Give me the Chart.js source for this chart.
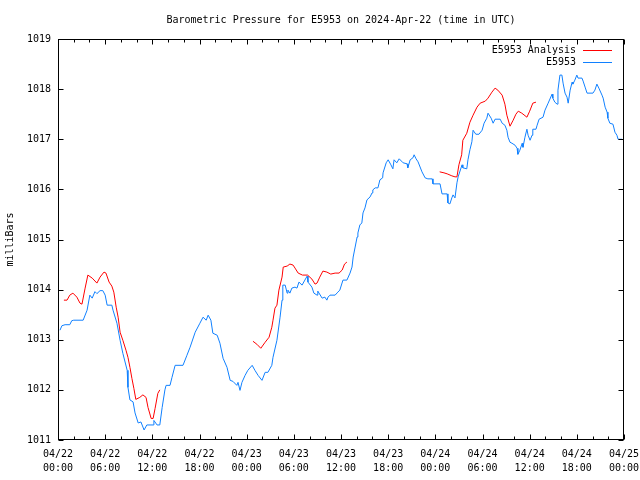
<!DOCTYPE html>
<html lang="en">
<head>
<meta charset="UTF-8">
<title>Barometric Pressure E5953</title>
<script src="https://cdn.jsdelivr.net/npm/chart.js"></script>
<style>
  body { margin: 0; background: #fff; }
  #wrap { width: 640px; height: 480px; }
</style>
</head>
<body>
<div id="wrap"><canvas id="pressureChart" width="640" height="480"></canvas></div>
<script>
// hours since 04/22 00:00 UTC
const stationHours = [
  0.25, 0.5, 0.9, 1.5, 1.75, 2.0, 3.2, 3.7, 4.05, 4.35, 4.7, 4.95, 5.35, 5.7, 6.0, 6.25, 6.85, 7.0, 7.5, 7.9,
  8.25, 8.8, 8.9, 9.15, 9.55, 9.8, 10.2, 10.55, 10.95, 11.3, 12.1, 12.2, 12.6, 12.95, 13.25, 13.6, 13.75, 14.25, 14.5, 14.9,
  15.9, 16.4, 16.8, 17.45, 18.05, 18.45, 18.85, 19.1, 19.45, 19.7, 20.25, 20.6, 21.0, 21.5, 21.9, 22.25, 22.75, 22.9, 23.15, 23.4,
  23.8, 24.15, 24.7, 25.05, 25.45, 25.95, 26.35, 26.7, 27.2, 27.35, 27.85, 28.25, 28.5, 28.6, 28.9, 29.15, 29.25, 29.5, 29.75, 30.15,
  30.4, 30.65, 31.05, 31.4, 31.7, 31.8, 32.3, 32.55, 32.95, 33.05, 33.6, 33.95, 34.2, 34.35, 34.6, 35.25, 35.6, 35.85, 36.25, 36.75,
  37.15, 37.4, 37.55, 37.8, 38.05, 38.15, 38.4, 38.65, 38.8, 39.05, 39.3, 39.7, 39.95, 40.05, 40.35, 40.7, 40.95, 41.3, 41.35, 41.75,
  42.0, 42.35, 42.6, 42.75, 43.1, 43.4, 43.9, 44.4, 44.5, 44.8, 45.15, 45.3, 45.55, 45.8, 46.3, 46.7, 47.05, 47.6, 47.7, 48.6,
  48.85, 49.5, 49.6, 49.85, 50.1, 50.25, 50.5, 50.75, 50.9, 51.4, 51.5, 52.0, 52.15, 52.4, 52.65, 52.8, 53.15, 53.55, 53.95, 54.2,
  54.55, 54.7, 55.1, 55.35, 55.6, 56.25, 56.5, 56.85, 57.1, 57.25, 57.5, 57.75, 58.15, 58.4, 58.5, 58.75, 59.05, 59.15, 59.4, 59.65,
  59.8, 60.05, 60.3, 60.4, 60.8, 60.95, 61.2, 61.7, 61.95, 62.35, 62.85, 62.95, 63.2, 63.5, 63.6, 63.85, 64.1, 64.25, 64.5, 64.75,
  64.9, 65.15, 65.4, 65.5, 65.75, 66.0, 66.15, 66.65, 66.8, 67.05, 67.3, 68.05, 68.3, 68.55, 68.8, 69.2, 69.35, 69.6, 69.85, 69.95,
  70.2, 70.6, 70.85, 71.1, 71.25, 71.75
];
const stationPressure = [
  1013.19, 1013.28, 1013.30, 1013.30, 1013.38, 1013.39, 1013.39, 1013.59, 1013.89, 1013.83, 1013.96, 1013.92, 1013.98, 1013.98, 1013.89, 1013.69, 1013.69, 1013.59, 1013.33, 1012.99,
  1012.73, 1012.39, 1012.05, 1011.80, 1011.76, 1011.54, 1011.34, 1011.36, 1011.20, 1011.30, 1011.30, 1011.39, 1011.30, 1011.30, 1011.65, 1012.00, 1012.09, 1012.09, 1012.25, 1012.49,
  1012.49, 1012.69, 1012.85, 1013.15, 1013.33, 1013.45, 1013.39, 1013.49, 1013.39, 1013.13, 1013.09, 1012.93, 1012.63, 1012.45, 1012.19, 1012.17, 1012.09, 1012.15, 1011.99, 1012.15,
  1012.29, 1012.39, 1012.49, 1012.39, 1012.29, 1012.19, 1012.35, 1012.35, 1012.49, 1012.65, 1012.99, 1013.45, 1013.79, 1014.09, 1014.09, 1013.93, 1013.99, 1013.93, 1014.03, 1014.05,
  1014.03, 1014.15, 1014.09, 1014.19, 1014.27, 1014.15, 1014.05, 1013.93, 1013.89, 1013.97, 1013.83, 1013.85, 1013.79, 1013.85, 1013.89, 1013.89, 1013.95, 1013.99, 1014.19, 1014.19,
  1014.33, 1014.45, 1014.65, 1014.85, 1015.05, 1015.13, 1015.29, 1015.33, 1015.53, 1015.63, 1015.79, 1015.85, 1015.93, 1015.99, 1016.03, 1016.03, 1016.19, 1016.23, 1016.33, 1016.53,
  1016.59, 1016.49, 1016.41, 1016.59, 1016.53, 1016.61, 1016.53, 1016.51, 1016.43, 1016.59, 1016.63, 1016.69, 1016.61, 1016.55, 1016.35, 1016.23, 1016.21, 1016.21, 1016.11, 1016.11,
  1015.91, 1015.91, 1015.73, 1015.71, 1015.83, 1015.89, 1015.83, 1016.13, 1016.25, 1016.49, 1016.43, 1016.41, 1016.59, 1016.79, 1016.95, 1017.18, 1017.10, 1017.10, 1017.18, 1017.32,
  1017.42, 1017.52, 1017.42, 1017.32, 1017.40, 1017.40, 1017.32, 1017.28, 1017.18, 1017.04, 1016.94, 1016.92, 1016.88, 1016.82, 1016.70, 1016.78, 1016.92, 1016.84, 1017.04, 1017.20,
  1017.08, 1016.98, 1017.08, 1017.20, 1017.20, 1017.28, 1017.40, 1017.44, 1017.58, 1017.72, 1017.90, 1017.82, 1017.74, 1017.70, 1017.98, 1018.28, 1018.28, 1018.12, 1017.92, 1017.84,
  1017.72, 1017.98, 1018.14, 1018.10, 1018.18, 1018.28, 1018.22, 1018.22, 1018.16, 1018.04, 1017.92, 1017.92, 1017.98, 1018.10, 1018.02, 1017.88, 1017.82, 1017.64, 1017.54, 1017.42,
  1017.32, 1017.30, 1017.14, 1017.08, 1017.00, 1017.00
];

// analysis runs; null marks a break between runs
const analysisHours = [
  0.75, 1.15, 1.5, 1.9, 2.4, 2.8, 3.05, 3.45, 3.8, 4.35, 4.95, 5.35, 5.85, 6.1, 6.5, 6.85, 7.1, 7.4, 7.65, 7.9,
  8.25, 8.65, 8.9, 9.15, 9.4, 9.65, 9.9, 10.4, 10.8, 11.2, 11.45, 11.85, 12.1, 12.35, 12.7, 12.95,
  18.0,
  24.8, 25.3, 25.8, 26.35, 26.85, 27.2, 27.35, 27.6, 27.85, 28.1, 28.5, 28.65, 29.15, 29.5, 29.9, 30.15, 30.55, 31.1, 31.75,
  32.3, 32.7, 32.95, 33.3, 33.7, 34.2, 34.7, 35.25, 35.75, 36.15, 36.45, 36.75,
  42.0,
  48.55, 49.1, 49.5, 50.1, 50.5, 50.75, 51.0, 51.35, 51.5, 52.0, 52.4, 52.8, 53.3, 53.7, 54.35, 54.7, 55.2, 55.6, 55.95, 56.5,
  56.85, 57.1, 57.5, 57.9, 58.25, 58.55, 59.0, 59.65, 60.0, 60.4, 60.8
];
const analysisPressure = [
  1013.79, 1013.79, 1013.89, 1013.93, 1013.85, 1013.73, 1013.71, 1014.03, 1014.29, 1014.23, 1014.13, 1014.25, 1014.35, 1014.33, 1014.15, 1014.07, 1013.95, 1013.65, 1013.45, 1013.15,
  1012.99, 1012.79, 1012.65, 1012.45, 1012.23, 1012.03, 1011.81, 1011.85, 1011.90, 1011.85, 1011.65, 1011.43, 1011.43, 1011.63, 1011.93, 1012.00,
  null,
  1012.97, 1012.91, 1012.83, 1012.95, 1013.05, 1013.25, 1013.39, 1013.63, 1013.69, 1013.99, 1014.25, 1014.45, 1014.47, 1014.51, 1014.49, 1014.43, 1014.33, 1014.29, 1014.29,
  1014.21, 1014.11, 1014.13, 1014.25, 1014.37, 1014.35, 1014.31, 1014.33, 1014.33, 1014.39, 1014.51, 1014.55,
  null,
  1016.35, 1016.33, 1016.31, 1016.27, 1016.25, 1016.25, 1016.49, 1016.69, 1016.98, 1017.12, 1017.34, 1017.48, 1017.64, 1017.72, 1017.76, 1017.82, 1017.94, 1018.02, 1017.98, 1017.88,
  1017.70, 1017.48, 1017.26, 1017.38, 1017.50, 1017.56, 1017.52, 1017.44, 1017.56, 1017.72, 1017.74
];

const tickDates = ['04/22', '04/22', '04/22', '04/22', '04/23', '04/23', '04/23', '04/23', '04/24', '04/24', '04/24', '04/24', '04/25'];
const tickTimes = ['00:00', '06:00', '12:00', '18:00', '00:00', '06:00', '12:00', '18:00', '00:00', '06:00', '12:00', '18:00', '00:00'];

const MONO = '"DejaVu Sans Mono", "Liberation Mono", monospace';
Chart.defaults.font.family = MONO;
Chart.defaults.font.size = 10;
Chart.defaults.color = '#000';

// frame, inward tic marks and gnuplot-style legend
const framePlugin = {
  id: 'frame',
  afterDatasetsDraw(chart) {
    const { ctx, chartArea: a, scales } = chart;
    const x = scales.x, y = scales.y;
    ctx.save();
    ctx.strokeStyle = '#000';
    ctx.lineWidth = 1;
    const L = Math.round(a.left) + 0.5, R = Math.round(a.right) - 0.5;
    const T = Math.round(a.top) + 0.5, B = Math.round(a.bottom) - 0.5;
    ctx.strokeRect(L, T, R - L, B - T);
    ctx.beginPath();
    for (let h = x.min; h <= x.max; h += 2) {
      const px = Math.round(x.getPixelForValue(h)) + 0.5;
      const len = h % 6 === 0 ? 5 : 3;
      ctx.moveTo(px, B); ctx.lineTo(px, B - len);
      ctx.moveTo(px, T); ctx.lineTo(px, T + len);
    }
    for (let v = y.min; v <= y.max; v += 1) {
      const py = Math.round(y.getPixelForValue(v)) + 0.5;
      ctx.moveTo(L, py); ctx.lineTo(L + 5, py);
      ctx.moveTo(R, py); ctx.lineTo(R - 5, py);
    }
    ctx.stroke();

    ctx.font = '10px ' + MONO;
    ctx.textAlign = 'right';
    ctx.textBaseline = 'middle';
    chart.data.datasets.forEach((ds, i) => {
      const yy = Math.round(a.top + 11 + i * 12) + 0.5;
      ctx.fillStyle = '#000';
      ctx.fillText(ds.label, a.right - 48, yy);
      ctx.strokeStyle = ds.borderColor;
      ctx.beginPath();
      ctx.moveTo(a.right - 41, yy);
      ctx.lineTo(a.right - 12, yy);
      ctx.stroke();
    });
    ctx.restore();
  }
};

const ctx = document.getElementById('pressureChart').getContext('2d');
new Chart(ctx, {
  type: 'line',
  data: {
    datasets: [
      {
        label: 'E5953 Analysis',
        data: analysisHours.map((h, i) => ({ x: h, y: analysisPressure[i] })),
        borderColor: '#ff0000',
        borderWidth: 1,
        pointRadius: 0,
        spanGaps: false,
        tension: 0
      },
      {
        label: 'E5953',
        data: stationHours.map((h, i) => ({ x: h, y: stationPressure[i] })),
        borderColor: '#1080ff',
        borderWidth: 1,
        pointRadius: 0,
        tension: 0
      }
    ]
  },
  options: {
    responsive: false,
    animation: false,
    layout: { padding: { left: 0, right: 16, top: 0, bottom: 0 } },
    plugins: {
      legend: { display: false },
      tooltip: { enabled: false },
      title: {
        display: true,
        fullSize: false,
        text: 'Barometric Pressure for E5953 on 2024-Apr-22 (time in UTC)',
        font: { size: 10, weight: 'normal', lineHeight: 1.2 },
        color: '#000',
        padding: { top: 14, bottom: 13 }
      }
    },
    scales: {
      x: {
        type: 'linear',
        min: 0,
        max: 72,
        grid: { display: false, drawTicks: false },
        border: { display: false },
        ticks: {
          stepSize: 6,
          autoSkip: false,
          maxRotation: 0,
          padding: 7,
          font: { size: 10, lineHeight: 1.4 },
          callback: (v) => [tickDates[v / 6], tickTimes[v / 6]]
        },
        afterFit: (s) => {
          s.height = 40;
          s.paddingLeft = 15;
          s.paddingRight = 15;
        }
      },
      y: {
        min: 1011,
        max: 1019,
        grid: { display: false, drawTicks: false },
        border: { display: false },
        ticks: { stepSize: 1, padding: 7, callback: (v) => String(v) },
        title: {
          display: true,
          text: 'milliBars',
          font: { size: 10, lineHeight: 1.2 },
          padding: { top: 4, bottom: 0 }
        },
        afterFit: (s) => { s.width = 58; }
      }
    }
  },
  plugins: [framePlugin]
});
</script>
</body>
</html>
